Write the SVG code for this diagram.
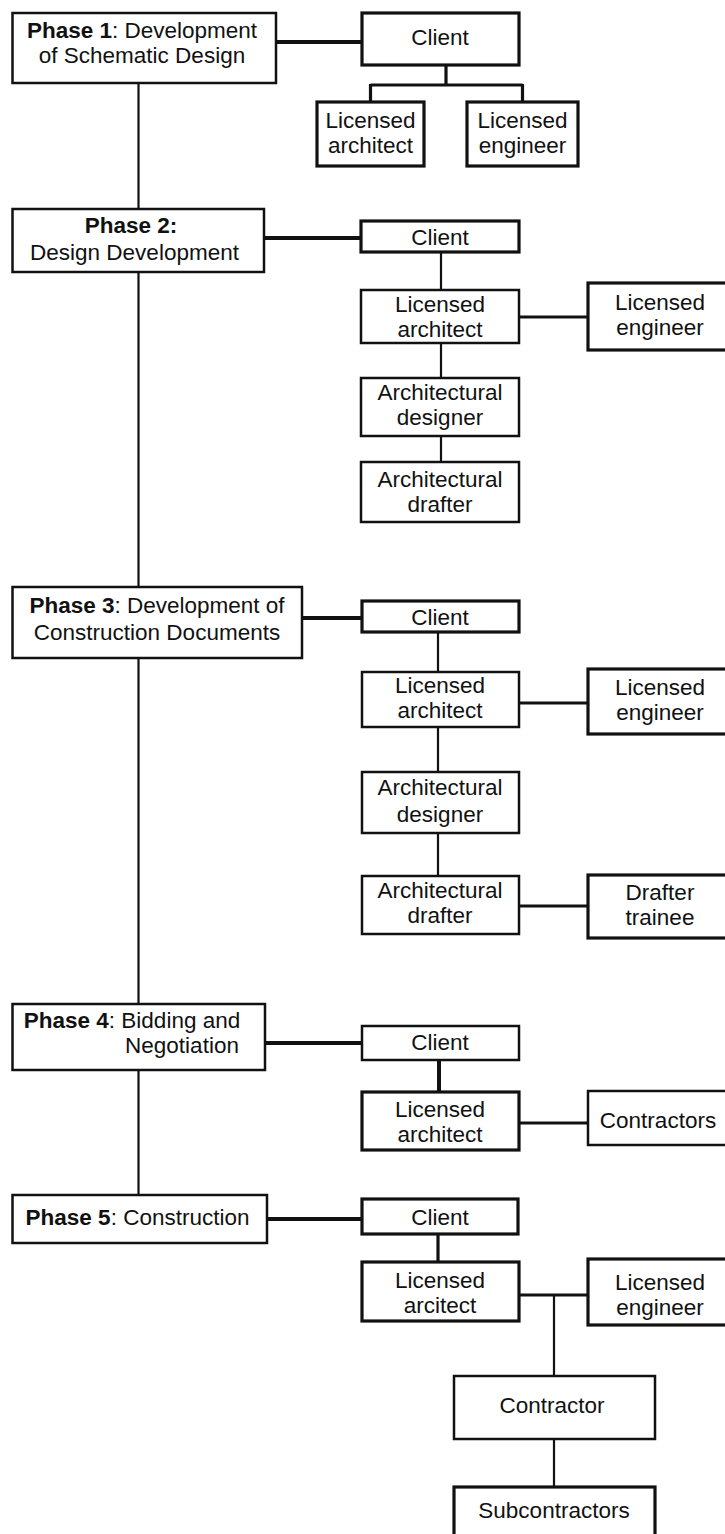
<svg xmlns="http://www.w3.org/2000/svg" width="725" height="1534" viewBox="0 0 725 1534">
<style>
.box{fill:#fff;stroke:#111;stroke-width:2.5}
.bx{stroke-width:3.2}
.t{font-family:"Liberation Sans",Arial,Helvetica,sans-serif;font-size:22.5px;fill:#111;text-anchor:middle}
.b{font-weight:bold}
.ln{stroke:#111;stroke-width:2.2;fill:none}
.tk{stroke-width:4}
.md{stroke-width:3.2}
</style>
<rect width="725" height="1534" fill="#fff"/>
<g id="connectors">
<path class="ln" d="M138.5 83V209M138.5 272V587M138.5 658V1004M138.5 1070V1195"/>
<path class="ln tk" d="M276 42H362M264 238H361M302 618H362M265 1043H362M267 1219H362"/>
<path class="ln md" d="M446 65V85M370.5 85H522.5M370.5 84V102M522.5 84V102"/>
<path class="ln" d="M441 252V290M441 343V378M441 436V462"/>
<path class="ln md" d="M519 317H588"/>
<path class="ln" d="M438 632V672M438 727V772M438 833V876"/>
<path class="ln md" d="M519 703H588M519 906H588"/>
<path class="ln tk" d="M439 1060V1092"/>
<path class="ln md" d="M519 1123H588"/>
<path class="ln md" d="M438 1234V1262M519 1295H588"/>
<path class="ln" d="M554 1295V1376M554 1439V1487"/>
</g>
<g id="phase1">
<rect class="box" x="12.5" y="13" width="263.5" height="70"/>
<text class="t" x="142" y="38"><tspan class="b">Phase 1</tspan>: Development</text>
<text class="t" x="142" y="63">of Schematic Design</text>
</g>
<g id="p1-client">
<rect class="box bx" x="362" y="13" width="157" height="52"/>
<text class="t" x="440" y="45">Client</text>
</g>
<g id="p1-architect">
<rect class="box bx" x="317" y="102" width="107" height="64"/>
<text class="t" x="370.5" y="128">Licensed</text>
<text class="t" x="370.5" y="153">architect</text>
</g>
<g id="p1-engineer">
<rect class="box bx" x="467" y="102" width="111" height="64"/>
<text class="t" x="522.5" y="128">Licensed</text>
<text class="t" x="522.5" y="153">engineer</text>
</g>
<g id="phase2">
<rect class="box" x="12.5" y="209" width="251.5" height="63"/>
<text class="t b" x="131" y="233">Phase 2:</text>
<text class="t" x="134.5" y="260">Design Development</text>
</g>
<g id="p2-client">
<rect class="box bx" x="361" y="221" width="158" height="31"/>
<text class="t" x="440" y="245">Client</text>
</g>
<g id="p2-architect">
<rect class="box" x="361" y="290" width="158" height="53"/>
<text class="t" x="440" y="312">Licensed</text>
<text class="t" x="440" y="337">architect</text>
</g>
<g id="p2-engineer">
<rect class="box bx" x="588" y="283" width="142" height="67"/>
<text class="t" x="660" y="310">Licensed</text>
<text class="t" x="660" y="335">engineer</text>
</g>
<g id="p2-designer">
<rect class="box" x="361" y="378" width="158" height="58"/>
<text class="t" x="440" y="400">Architectural</text>
<text class="t" x="440" y="425">designer</text>
</g>
<g id="p2-drafter">
<rect class="box" x="361" y="462" width="158" height="60"/>
<text class="t" x="440" y="487">Architectural</text>
<text class="t" x="440" y="512">drafter</text>
</g>
<g id="phase3">
<rect class="box" x="12.5" y="587" width="289.5" height="71"/>
<text class="t" x="157" y="613"><tspan class="b">Phase 3</tspan>: Development of</text>
<text class="t" x="157" y="640">Construction Documents</text>
</g>
<g id="p3-client">
<rect class="box bx" x="362" y="601" width="157" height="31"/>
<text class="t" x="440" y="625">Client</text>
</g>
<g id="p3-architect">
<rect class="box" x="362" y="672" width="157" height="55"/>
<text class="t" x="440" y="693">Licensed</text>
<text class="t" x="440" y="718">architect</text>
</g>
<g id="p3-engineer">
<rect class="box bx" x="588" y="669" width="142" height="65"/>
<text class="t" x="660" y="695">Licensed</text>
<text class="t" x="660" y="720">engineer</text>
</g>
<g id="p3-designer">
<rect class="box" x="362" y="772" width="157" height="61"/>
<text class="t" x="440" y="795">Architectural</text>
<text class="t" x="440" y="822">designer</text>
</g>
<g id="p3-drafter">
<rect class="box" x="362" y="876" width="157" height="58"/>
<text class="t" x="440" y="898">Architectural</text>
<text class="t" x="440" y="923">drafter</text>
</g>
<g id="p3-trainee">
<rect class="box bx" x="588" y="875" width="142" height="63"/>
<text class="t" x="660" y="900">Drafter</text>
<text class="t" x="660" y="925">trainee</text>
</g>
<g id="phase4">
<rect class="box" x="12.5" y="1004" width="252.5" height="66"/>
<text class="t" x="132" y="1028"><tspan class="b">Phase 4</tspan>: Bidding and</text>
<text class="t" x="182" y="1053">Negotiation</text>
</g>
<g id="p4-client">
<rect class="box" x="362" y="1026" width="157" height="34"/>
<text class="t" x="440" y="1050">Client</text>
</g>
<g id="p4-architect">
<rect class="box bx" x="362" y="1092" width="157" height="58"/>
<text class="t" x="440" y="1117">Licensed</text>
<text class="t" x="440" y="1142">architect</text>
</g>
<g id="p4-contractors">
<rect class="box" x="588" y="1091" width="142" height="54"/>
<text class="t" x="658" y="1128">Contractors</text>
</g>
<g id="phase5">
<rect class="box" x="12.5" y="1195" width="254.5" height="48"/>
<text class="t" x="137.5" y="1225"><tspan class="b">Phase 5</tspan>: Construction</text>
</g>
<g id="p5-client">
<rect class="box bx" x="362" y="1199" width="156" height="35"/>
<text class="t" x="440" y="1225">Client</text>
</g>
<g id="p5-architect">
<rect class="box bx" x="362" y="1262" width="157" height="59"/>
<text class="t" x="440" y="1288">Licensed</text>
<text class="t" x="440" y="1313">arcitect</text>
</g>
<g id="p5-engineer">
<rect class="box bx" x="588" y="1259" width="142" height="66"/>
<text class="t" x="660" y="1290">Licensed</text>
<text class="t" x="660" y="1315">engineer</text>
</g>
<g id="p5-contractor">
<rect class="box" x="454" y="1376" width="201" height="63"/>
<text class="t" x="552" y="1413">Contractor</text>
</g>
<g id="p5-subcontractors">
<rect class="box bx" x="454" y="1487" width="201" height="60"/>
<text class="t" x="554" y="1518">Subcontractors</text>
</g>
</svg>
